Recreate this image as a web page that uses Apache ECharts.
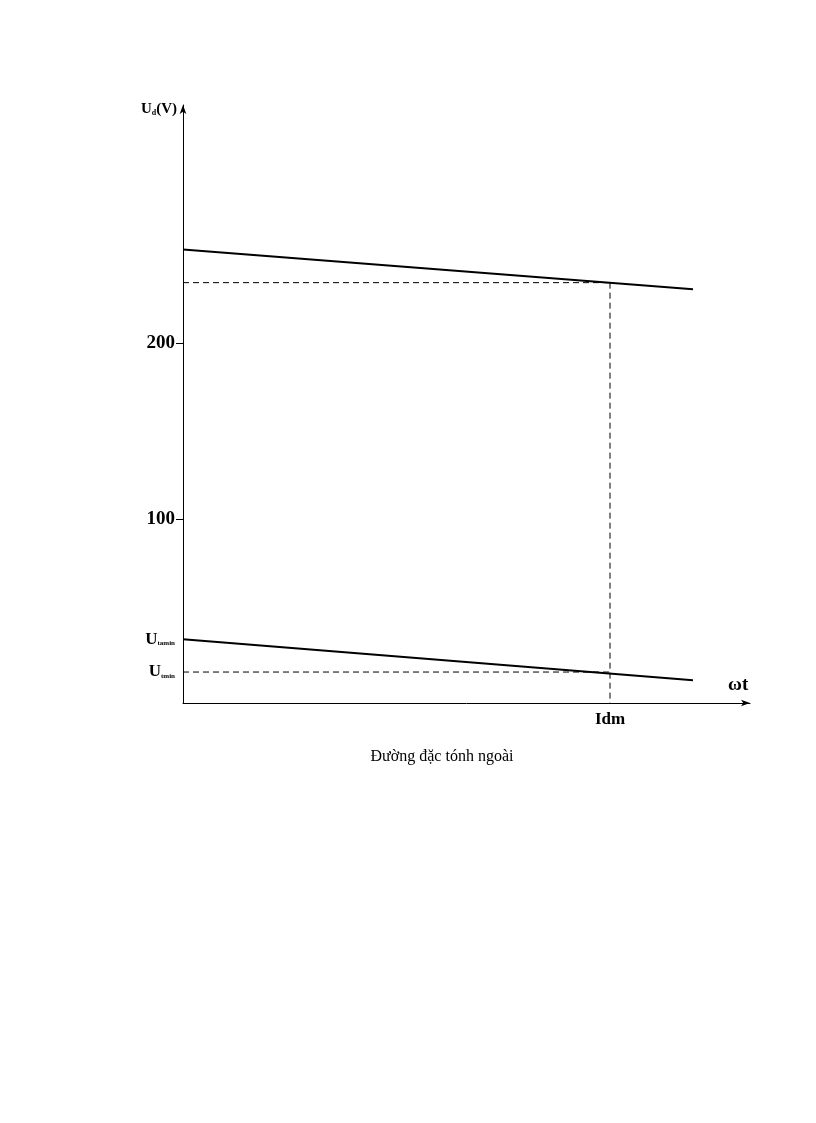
<!DOCTYPE html>
<html><head><meta charset="utf-8">
<script src="https://cdn.jsdelivr.net/npm/echarts@6/dist/echarts.min.js"></script>
<style>html,body{margin:0;padding:0;background:#fff}#c{width:816px;height:1123px}</style>
</head><body><div id="c"></div>
<script>
const upperLine = [[0, 253.4], [510, 230.7]];
const lowerLine = [[0, 31.8], [510, 8.5]];
const idm = 427;
const uAtIdmUpper = 234.5;
const uAtIdmLower = 13.1;
const yTicks = [100, 200];
const yLabelValues = [13.1, 31.8, 100, 200];
const yLabelTexts = {13.1: '{u|U}{s|tmin}', 31.8: '{u|U}{s|tamin}', 100: '{n|100}', 200: '{n|200}'};
const xLabelValues = [idm];
const xLabelTexts = {427: 'Idm'};
const caption = 'Đường đặc tónh ngoài';

const serif = '"Liberation Serif", "DejaVu Serif", serif';
const chart = echarts.init(document.getElementById('c'), null, {renderer: 'canvas'});
const dashed = {color: '#000', width: 1, type: [6, 4]};
chart.setOption({
  backgroundColor: '#fff',
  animation: false,
  title: {text: caption, left: 437, top: 744, textAlign: 'center',
    textStyle: {fontFamily: serif, fontSize: 16, fontWeight: 'normal', color: '#000'}},
  grid: {left: 183, right: 66, top: 105, bottom: 420, containLabel: false},
  xAxis: {
    type: 'value', min: 0, max: 567,
    name: 'ωt', nameLocation: 'end', nameGap: -22,
    nameTextStyle: {fontFamily: serif, fontSize: 19, fontWeight: 'bold', color: '#000', verticalAlign: 'bottom', padding: [0, 0, 8, 0]},
    axisLine: {show: true, onZero: false, lineStyle: {color: '#000', width: 1}, symbol: ['none', 'arrow'], symbolSize: [5, 9]},
    axisTick: {show: false},
    splitLine: {show: false},
    axisLabel: {customValues: xLabelValues, formatter: v => xLabelTexts[Math.round(v)] || '', margin: 8,
      fontFamily: serif, fontSize: 17, fontWeight: 'bold', color: '#000'}
  },
  yAxis: {
    type: 'value', min: -4.5, max: 335.5,
    name: '{u|U}{s|d}{u|(V)}', nameLocation: 'end', nameGap: -4,
    nameTextStyle: {align: 'right', verticalAlign: 'middle', padding: [0, 6, 0, 0],
      rich: {u: {fontFamily: serif, fontSize: 15, fontWeight: 'bold', color: '#000'},
             s: {fontFamily: serif, fontSize: 8, fontWeight: 'bold', color: '#000', padding: [8, 0, 0, 0]}}},
    axisLine: {show: true, onZero: false, lineStyle: {color: '#000', width: 1}, symbol: ['none', 'arrow'], symbolSize: [5, 9]},
    axisTick: {show: true, customValues: yTicks, length: 7, lineStyle: {color: '#000'}},
    splitLine: {show: false},
    axisLabel: {customValues: yLabelValues, margin: 8,
      formatter: v => yLabelTexts[Math.round(v * 10) / 10] || '',
      rich: {n: {fontFamily: serif, fontSize: 19, fontWeight: 'bold', color: '#000'},
             u: {fontFamily: serif, fontSize: 17, fontWeight: 'bold', color: '#000'},
             s: {fontFamily: serif, fontSize: 7, fontWeight: 'bold', color: '#000', padding: [9, 0, 0, 0]}}}
  },
  series: [
    {type: 'line', data: upperLine, symbol: 'none', lineStyle: {color: '#000', width: 2}},
    {type: 'line', data: lowerLine, symbol: 'none', lineStyle: {color: '#000', width: 2}},
    {type: 'line', data: [[0, uAtIdmUpper], [idm, uAtIdmUpper]], symbol: 'none', lineStyle: dashed},
    {type: 'line', data: [[0, uAtIdmLower], [idm, uAtIdmLower]], symbol: 'none', lineStyle: dashed},
    {type: 'line', data: [[idm, uAtIdmUpper], [idm, -4.5]], symbol: 'none', lineStyle: dashed}
  ]
});
</script></body></html>
